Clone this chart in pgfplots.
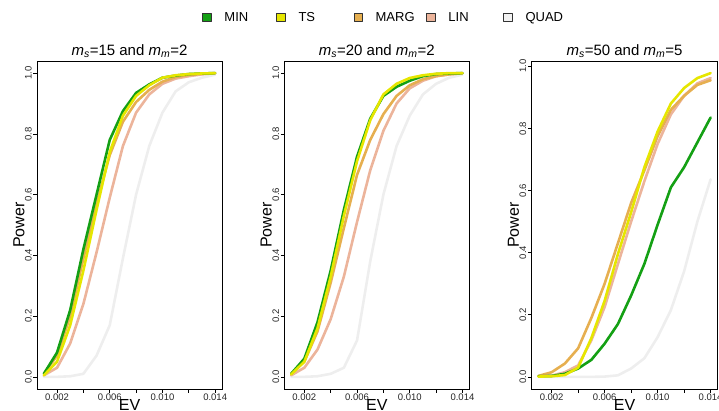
\documentclass[border=0pt]{standalone}
\usepackage{fontspec}
\setmainfont{Liberation Sans}
\usepackage{pgfplots}
\usepackage{pgfplotstable}
\pgfplotsset{compat=1.18}

\definecolor{cmin}{RGB}{20,160,20}
\definecolor{cts}{RGB}{230,230,0}
\definecolor{cmarg}{RGB}{230,175,80}
\definecolor{clin}{RGB}{236,180,155}
\definecolor{cquad}{RGB}{238,238,238}

\pgfplotstableread{
ev min ts marg lin quad
0.001 0.010 0.005 0.010 0.005 0.000
0.002 0.080 0.050 0.070 0.030 0.000
0.003 0.220 0.170 0.200 0.110 0.002
0.004 0.420 0.350 0.390 0.240 0.010
0.005 0.600 0.550 0.570 0.410 0.070
0.006 0.780 0.740 0.730 0.590 0.170
0.007 0.875 0.860 0.840 0.760 0.390
0.008 0.935 0.925 0.905 0.870 0.600
0.009 0.963 0.960 0.945 0.930 0.760
0.010 0.985 0.985 0.972 0.965 0.870
0.011 0.992 0.993 0.987 0.982 0.940
0.012 0.997 0.997 0.994 0.990 0.970
0.013 0.999 0.999 0.998 0.996 0.985
0.014 1.000 1.000 1.000 1.000 0.995
}\pone

\pgfplotstableread{
ev min ts marg lin quad
0.001 0.010 0.008 0.010 0.005 0.000
0.002 0.060 0.050 0.050 0.030 0.000
0.003 0.180 0.160 0.150 0.090 0.002
0.004 0.350 0.330 0.310 0.190 0.010
0.005 0.550 0.530 0.490 0.330 0.030
0.006 0.725 0.710 0.665 0.510 0.120
0.007 0.850 0.845 0.780 0.680 0.380
0.008 0.925 0.930 0.865 0.810 0.600
0.009 0.955 0.965 0.925 0.900 0.760
0.010 0.975 0.984 0.960 0.950 0.860
0.011 0.990 0.993 0.980 0.975 0.930
0.012 0.997 0.998 0.990 0.990 0.965
0.013 0.999 1.000 0.996 0.996 0.985
0.014 1.000 1.000 1.000 1.000 0.995
}\ptwo

\pgfplotstableread{
ev min ts marg lin quad
0.001 0.002 0.001 0.003 0.002 0.000
0.002 0.003 0.002 0.015 0.004 0.000
0.003 0.010 0.006 0.043 0.015 0.000
0.004 0.027 0.030 0.092 0.037 0.000
0.005 0.055 0.125 0.190 0.118 0.000
0.006 0.107 0.245 0.300 0.225 0.001
0.007 0.170 0.395 0.430 0.363 0.005
0.008 0.262 0.530 0.560 0.500 0.027
0.009 0.364 0.675 0.665 0.630 0.060
0.010 0.490 0.790 0.775 0.750 0.128
0.011 0.610 0.880 0.860 0.845 0.215
0.012 0.675 0.930 0.905 0.905 0.340
0.013 0.755 0.962 0.940 0.945 0.500
0.014 0.835 0.978 0.955 0.962 0.636
}\pthree

\pgfplotsset{
  panel/.style={
    scale only axis, height=328pt,
    anchor=south west,
    xmin=0.00048, xmax=0.01452, ymin=-0.04, ymax=1.04,
    axis line style={line width=0.7pt, black},
    tick align=outside, tick pos=left,
    major tick length=3.5pt,
    tick style={line width=0.7pt, black},
    xtick={0.002,0.004,0.006,0.008,0.010,0.012,0.014},
    xticklabels={0.002,,0.006,,0.010,,0.014},
    ytick={0,0.2,0.4,0.6,0.8,1},
    yticklabels={0.0,0.2,0.4,0.6,0.8,1.0},
    scaled x ticks=false, scaled y ticks=false,
    /pgf/number format/assume math mode=true,
    tick label style={font=\fontsize{9.5}{11}\selectfont, text=black!85},
    yticklabel style={rotate=90, anchor=south, inner sep=1.5pt},
    xticklabel style={inner sep=1.5pt},
    xlabel={EV}, ylabel={Power},
    every axis x label/.style={at={(axis description cs:0.5,-0.067)}, anchor=base, font=\fontsize{16}{18}\selectfont},
    every axis y label/.style={at={(axis description cs:-0.068,0.5)}, rotate=90, anchor=base, font=\fontsize{16}{18}\selectfont},
    every axis title/.style={at={(axis description cs:0.5,1.018)}, anchor=base, font=\fontsize{15}{17}\selectfont},
    every axis plot/.append style={line width=2.6pt, line join=round, line cap=round},
  },
  legbox/.style={legend image code/.code={\draw[draw=black!80, line width=0.6pt, fill=#1] (0pt,-4.2pt) rectangle (8.4pt,4.2pt); \path (20.5pt,0pt);}},
}

\newcommand{\drawpanel}[1]{%
  \addplot[cquad] table[x=ev,y=quad] {#1};
  \addplot[clin] table[x=ev,y=lin] {#1};
  \addplot[cmarg] table[x=ev,y=marg] {#1};
  \addplot[cmin] table[x=ev,y=min] {#1};
  \addplot[cts] table[x=ev,y=ts] {#1};
}

\begin{document}
\begin{tikzpicture}
\useasboundingbox (0pt,0pt) rectangle (719pt,410pt);

\begin{axis}[panel, at={(37pt,21pt)}, width=185pt,
  title={\textit{m}\textsubscript{\textit{s}}=15 and \textit{m}\textsubscript{\textit{m}}=2}]
\drawpanel{\pone}
\end{axis}

\begin{axis}[panel, at={(284.3pt,21pt)}, width=185pt,
  title={\textit{m}\textsubscript{\textit{s}}=20 and \textit{m}\textsubscript{\textit{m}}=2},
  legend columns=5, legend cell align=left,
  legend style={draw=none, fill=none, inner sep=0pt, outer sep=0pt,
    column sep=0pt, row sep=0pt, nodes={inner sep=0pt},
    font=\fontsize{13}{15}\selectfont,
    at={(axis description cs:-0.443,1.1326)}, anchor=west}]
\addlegendimage{legbox=cmin}
\addlegendentry{\makebox[52pt][l]{MIN}}
\addlegendimage{legbox=cts}
\addlegendentry{\makebox[55pt][l]{TS}}
\addlegendimage{legbox=cmarg}
\addlegendentry{\makebox[50.7pt][l]{MARG}}
\addlegendimage{legbox=clin}
\addlegendentry{\makebox[55pt][l]{LIN}}
\addlegendimage{legbox=white!95!black}
\addlegendentry{QUAD}
\drawpanel{\ptwo}
\end{axis}

\begin{axis}[panel, at={(531.5pt,21pt)}, width=186pt, ymin=-0.039, ymax=1.017,
  title={\textit{m}\textsubscript{\textit{s}}=50 and \textit{m}\textsubscript{\textit{m}}=5}]
\drawpanel{\pthree}
\end{axis}
\end{tikzpicture}
\end{document}
